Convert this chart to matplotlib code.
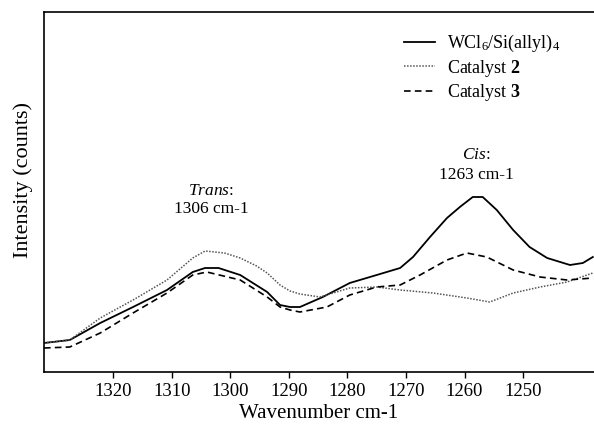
import matplotlib.pyplot as plt

# Serif fonts (Times-like)
plt.rcParams['font.family'] = ['Liberation Serif', 'DejaVu Serif']
plt.rcParams['mathtext.fontset'] = 'custom'
plt.rcParams['mathtext.rm'] = 'Liberation Serif'
plt.rcParams['mathtext.it'] = 'Liberation Serif:italic'
plt.rcParams['mathtext.bf'] = 'Liberation Serif:bold'

# Data (arbitrary intensity units)
wn_solid = [1331.8, 1327.4, 1322.2, 1316.6, 1310.8, 1306.4, 1304.3, 1302.0, 1298.3,
            1293.7, 1291.5, 1289.8, 1288.1, 1284.2, 1279.6, 1275.0, 1271.0, 1268.8,
            1265.9, 1263.0, 1260.8, 1258.6, 1256.9, 1254.5, 1251.7, 1248.9, 1245.9,
            1242.0, 1239.8, 1238.1]
int_solid = [29, 32, 49, 65, 82, 100, 104, 104, 97,
             80, 67, 65, 65, 75, 89, 97, 104, 115,
             135, 154, 165, 175, 175, 162, 142, 125, 114,
             107, 109, 115]

wn_cat2 = [1331.8, 1327.4, 1322.2, 1316.6, 1310.8, 1306.4, 1304.3, 1301.0, 1298.3,
           1295.5, 1293.7, 1291.5, 1289.8, 1288.1, 1284.7, 1279.6, 1275.0, 1271.0,
           1265.4, 1259.6, 1255.7, 1251.7, 1247.1, 1242.5, 1238.1]
int_cat2 = [29, 32, 54, 72, 92, 114, 121, 119, 114,
            106, 99, 87, 81, 78, 75, 84, 85, 82,
            79, 74, 70, 79, 85, 90, 99]

wn_cat3 = [1331.8, 1327.4, 1322.2, 1316.6, 1310.8, 1306.4, 1304.0, 1298.3, 1293.7,
           1291.5, 1289.8, 1288.1, 1283.5, 1279.6, 1275.0, 1271.0, 1267.6, 1263.0,
           1259.6, 1256.2, 1251.7, 1247.1, 1242.5, 1238.1]
int_cat3 = [24, 25, 39, 59, 79, 97, 100, 92, 75,
            65, 62, 60, 65, 77, 85, 87, 97, 112,
            119, 115, 102, 95, 92, 94]

xticks = [1320, 1310, 1300, 1290, 1280, 1270, 1260, 1250]

fig = plt.figure(figsize=(5.94, 4.26), dpi=100)
ax = fig.add_axes([44 / 594, 1 - 372 / 426, 1 - 44 / 594, 360 / 426])

ax.plot(wn_solid, int_solid, color='black', lw=1.3, ls='-',
        label='WCl$_6$/Si(allyl)$_4$')
ax.plot(wn_cat2, int_cat2, color='#555555', lw=1.1, ls=(0, (1, 1)),
        label='Catalyst $\\mathbf{2}$')
ax.plot(wn_cat3, int_cat3, color='black', lw=1.2, ls=(0, (4, 2.5)),
        label='Catalyst $\\mathbf{3}$')

ax.set_xlim(1331.8, 1237.9)
ax.set_ylim(0, 360)
ax.set_xticks(xticks)
ax.set_yticks([])
ax.tick_params(axis='x', direction='out', length=4, width=1, labelsize=13.5, pad=4)
ax.spines['right'].set_visible(False)
for s in ['left', 'bottom', 'top']:
    ax.spines[s].set_linewidth(1.2)

ax.set_xlabel('Wavenumber cm-1', fontsize=15, labelpad=3)
ax.set_ylabel('Intensity (counts)', fontsize=16)
ax.yaxis.set_label_coords(-0.02, (372 - 180) / 360)

# Peak annotations
ax.text(1303.3, 172, '$\\it{Trans}$:\n1306 cm-1', ha='center', va='center',
        fontsize=12.5, linespacing=1.2)
ax.text(1258.0, 207, '$\\it{Cis}$:\n1263 cm-1', ha='center', va='center',
        fontsize=12.5, linespacing=1.35)

ax.legend(loc='upper left', bbox_to_anchor=((404 - 44) / 550, (372 - 33) / 360),
          frameon=False, fontsize=13, handlelength=1.72, handletextpad=0.67,
          labelspacing=0.2, borderaxespad=0, borderpad=0)

fig.savefig('out.png', dpi=100)
